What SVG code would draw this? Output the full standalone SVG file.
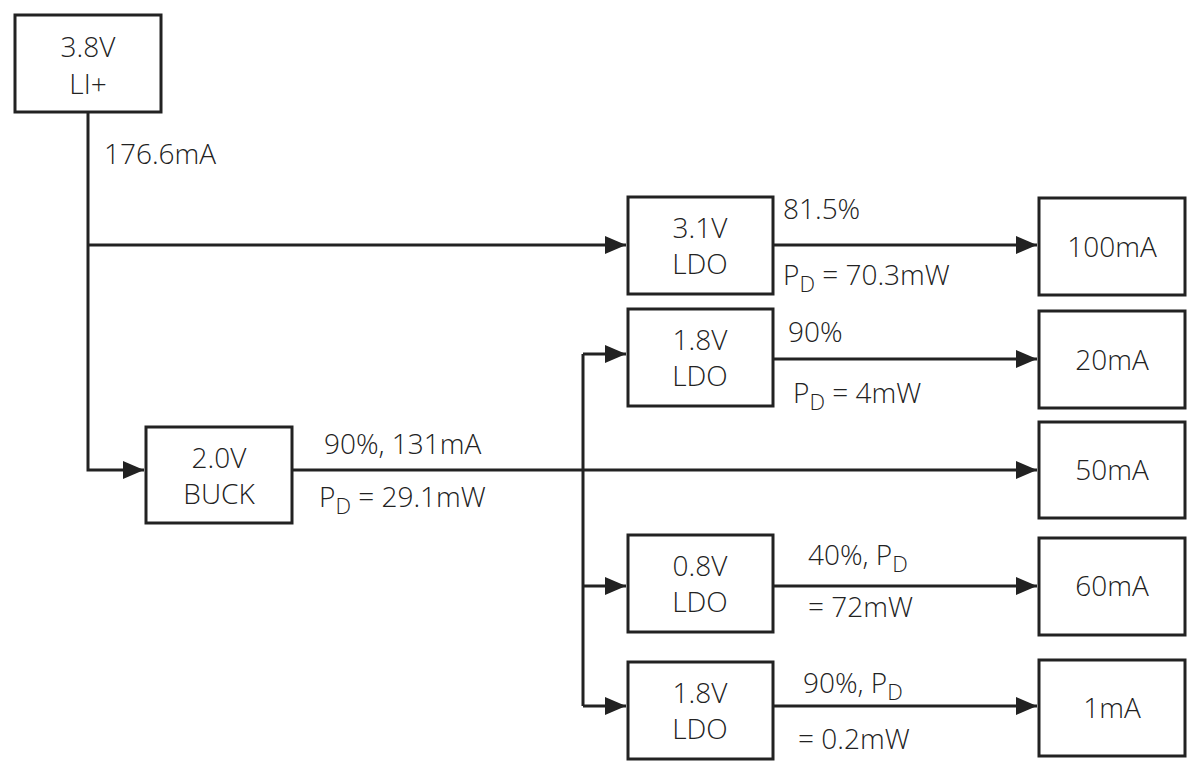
<svg xmlns="http://www.w3.org/2000/svg" width="1200" height="775" viewBox="0 0 1200 775">
<defs>
<style>
.box{fill:#fff;stroke:#222;stroke-width:3}
.t{font-family:"Open Sans","Liberation Sans",sans-serif;font-size:28px;font-weight:300;fill:#222}
.c{text-anchor:middle}
.sub{font-size:22px}
.ln{fill:none;stroke:#222;stroke-width:3}
</style>
<marker id="ah" markerWidth="7" markerHeight="6" refX="7" refY="3" orient="auto" markerUnits="strokeWidth">
<path d="M0,0 L7,3 L0,6 Z" fill="#222"/>
</marker>
</defs>
<rect width="1200" height="775" fill="#fff"/>
<g id="connectors">
<path class="ln" d="M88,112 V470 H144" marker-end="url(#ah)"/>
<path class="ln" d="M88,245 H626" marker-end="url(#ah)"/>
<path class="ln" d="M773,245 H1037" marker-end="url(#ah)"/>
<path class="ln" d="M292,470 H1037" marker-end="url(#ah)"/>
<path class="ln" d="M583,354 H626" marker-end="url(#ah)"/>
<path class="ln" d="M583,354 V706"/>
<path class="ln" d="M583,586 H626" marker-end="url(#ah)"/>
<path class="ln" d="M583,706 H626" marker-end="url(#ah)"/>
<path class="ln" d="M773,359 H1037" marker-end="url(#ah)"/>
<path class="ln" d="M773,586 H1037" marker-end="url(#ah)"/>
<path class="ln" d="M773,706 H1037" marker-end="url(#ah)"/>
<text class="t" x="104" y="164">176.6mA</text>
<text class="t" x="783" y="219">81.5%</text>
<text class="t" x="783" y="285">P<tspan class="sub" dy="7">D</tspan><tspan dy="-7"> = 70.3mW</tspan></text>
<text class="t" x="788" y="342">90%</text>
<text class="t" x="793" y="403">P<tspan class="sub" dy="7">D</tspan><tspan dy="-7"> = 4mW</tspan></text>
<text class="t" x="324" y="454">90%, 131mA</text>
<text class="t" x="319" y="507">P<tspan class="sub" dy="7">D</tspan><tspan dy="-7"> = 29.1mW</tspan></text>
<text class="t" x="808" y="565">40%, P<tspan class="sub" dy="7">D</tspan></text>
<text class="t" x="808" y="617">= 72mW</text>
<text class="t" x="803" y="693">90%, P<tspan class="sub" dy="7">D</tspan></text>
<text class="t" x="798" y="749">= 0.2mW</text>
</g>
<g id="src"><rect class="box" x="15" y="15" width="146" height="97"/><text class="t c" x="88" y="57">3.8V</text><text class="t c" x="88" y="94">LI+</text></g>
<g id="ldo31"><rect class="box" x="628" y="197" width="145" height="97"/><text class="t c" x="700" y="238">3.1V</text><text class="t c" x="700" y="274">LDO</text></g>
<g id="ldo18a"><rect class="box" x="628" y="309" width="145" height="97"/><text class="t c" x="700" y="350">1.8V</text><text class="t c" x="700" y="386">LDO</text></g>
<g id="buck"><rect class="box" x="146" y="427" width="146" height="96"/><text class="t c" x="219" y="468">2.0V</text><text class="t c" x="219" y="504">BUCK</text></g>
<g id="ldo08"><rect class="box" x="628" y="535" width="145" height="97"/><text class="t c" x="700" y="576">0.8V</text><text class="t c" x="700" y="612">LDO</text></g>
<g id="ldo18b"><rect class="box" x="628" y="662" width="145" height="97"/><text class="t c" x="700" y="703">1.8V</text><text class="t c" x="700" y="739">LDO</text></g>
<g id="l100"><rect class="box" x="1039" y="198" width="146" height="97"/><text class="t c" x="1112" y="257">100mA</text></g>
<g id="l20"><rect class="box" x="1039" y="311" width="146" height="97"/><text class="t c" x="1112" y="370">20mA</text></g>
<g id="l50"><rect class="box" x="1039" y="422" width="146" height="96"/><text class="t c" x="1112" y="480">50mA</text></g>
<g id="l60"><rect class="box" x="1039" y="538" width="146" height="97"/><text class="t c" x="1112" y="596">60mA</text></g>
<g id="l1"><rect class="box" x="1039" y="660" width="146" height="96"/><text class="t c" x="1112" y="718">1mA</text></g>
</svg>
